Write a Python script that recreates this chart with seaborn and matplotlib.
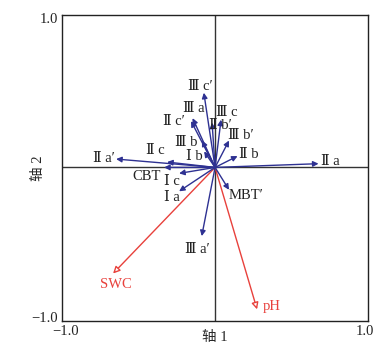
import seaborn as sns
from matplotlib import pyplot as plt
import pandas as pd

# brGDGT 及指标向量 (轴1, 轴2)
names = ['Ⅱ a', 'Ⅱ a′', 'Ⅱ c', 'CBT', 'Ⅰ c', 'Ⅰ a', 'MBT′', 'Ⅲ a′', 'Ⅱ b',
         'Ⅲ b′', 'Ⅲ c', 'Ⅱ b′', 'Ⅲ c′', 'Ⅲ a', 'Ⅱ c′', 'Ⅲ b', 'Ⅰ b']
ax1 = [0.69, -0.66, -0.32, -0.34, -0.24, -0.24, 0.093, -0.089, 0.15,
       0.093, 0.04, -0.02, -0.075, -0.15, -0.16, -0.087, -0.073]
ax2 = [0.025, 0.056, 0.036, 0.0, -0.04, -0.16, -0.15, -0.46, 0.076,
       0.18, 0.32, 0.30, 0.50, 0.33, 0.31, 0.18, 0.107]
# 标签位置
lab_x = [0.77, -0.74, -0.40, -0.46, -0.285, -0.285, 0.205, -0.118, 0.227,
         0.17, 0.075, 0.038, -0.10, -0.145, -0.273, -0.195, -0.14]
lab_y = [0.042, 0.058, 0.11, -0.058, -0.092, -0.20, -0.19, -0.55, 0.087,
         0.215, 0.37, 0.28, 0.54, 0.394, 0.31, 0.166, 0.072]

# 环境因子
env_names = ['SWC', 'pH']
env_x = [-0.68, 0.28]
env_y = [-0.71, -0.95]
env_lab_x = [-0.66, 0.38]
env_lab_y = [-0.785, -0.93]

df = pd.DataFrame({'name': names, 'x': ax1, 'y': ax2, 'lx': lab_x, 'ly': lab_y})
env = pd.DataFrame({'name': env_names, 'x': env_x, 'y': env_y, 'lx': env_lab_x, 'ly': env_lab_y})

sns.set_style('white')
plt.rcParams['font.family'] = ['Liberation Serif', 'DejaVu Serif', 'Noto Sans CJK SC', 'DejaVu Sans']
plt.rcParams['axes.unicode_minus'] = True

blue = '#2e3192'
red = '#e8413c'

fig = plt.figure(figsize=(3.81, 3.51), dpi=100)
ax = fig.add_axes([0.163, 0.0855, 0.803, 0.8725])

ax.axhline(0, color='#333333', lw=1.0, zorder=1)
ax.axvline(0, color='#333333', lw=1.0, zorder=1)

for _, r in df.iterrows():
    ax.annotate('', xy=(r.x, r.y), xytext=(0, 0),
                arrowprops=dict(arrowstyle='-|>', mutation_scale=8, lw=1.0,
                                color=blue, shrinkA=0, shrinkB=0), zorder=3)
    ax.text(r.lx, r.ly, r['name'], ha='center', va='center', fontsize=10.5, color='#222222')

for _, r in env.iterrows():
    ax.annotate('', xy=(r.x, r.y), xytext=(0, 0),
                arrowprops=dict(arrowstyle='-|>', mutation_scale=10, lw=1.0,
                                ec=red, fc='white', shrinkA=0, shrinkB=0), zorder=2)
    ax.text(r.lx, r.ly, r['name'], ha='center', va='center', fontsize=10.5, color=red)

ax.set_xlim(-1.02, 1.02)
ax.set_ylim(-1.028, 1.022)
ax.set_xticks([-1.0, 1.0])
ax.set_yticks([-1.0, 1.0])
ax.set_xticklabels(['−1.0', '1.0'])
ax.set_yticklabels(['−1.0', '1.0'])
ax.tick_params(direction='in', length=4, width=1, labelsize=10.5, colors='#222222', pad=3)
for s in ax.spines.values():
    s.set_color('#222222')
    s.set_linewidth(1.0)

ax.set_xlabel('轴 1', fontsize=10.5, labelpad=-5)
ax.set_ylabel('轴 2', fontsize=10.5, labelpad=-10)

fig.savefig('out.png', dpi=100)
